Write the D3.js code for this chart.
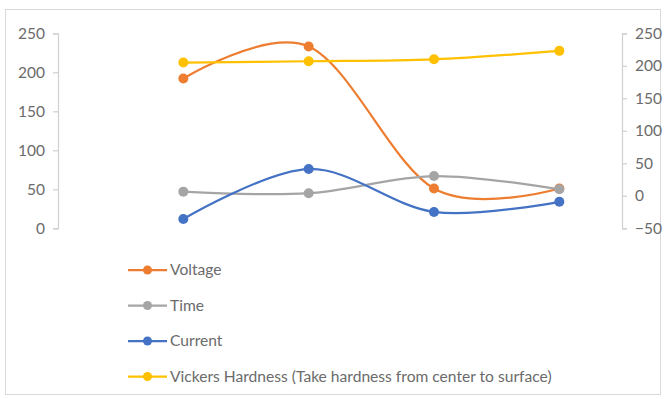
<!DOCTYPE html>
<html>
<head>
<meta charset="utf-8">
<script src="https://cdn.jsdelivr.net/npm/d3@7"></script>
<style>
  html, body { margin: 0; padding: 0; background: #fff; }
  svg { display: block; }
  text { font-family: Lato, "Liberation Sans", sans-serif; fill: #6b6b6b; }
</style>
</head>
<body>
<svg id="chart" width="667" height="399"></svg>
<script>
// Samples in order from centre to surface
const categories = ["1", "2", "3", "4"];

// Primary axis series
const voltage = [192, 233, 51, 51];
const time = [47, 45, 67, 50];
const current = [12, 76, 21, 34];

// Secondary axis series
const hardness = [205, 207, 210, 223];

const leftTicks = [0, 50, 100, 150, 200, 250];
const rightTicks = [-50, 0, 50, 100, 150, 200, 250];

const series = [
  { name: "Voltage", values: voltage, color: "#ED7D31", axis: "left" },
  { name: "Time", values: time, color: "#A5A5A5", axis: "left" },
  { name: "Current", values: current, color: "#4472C4", axis: "left" },
  { name: "Vickers Hardness (Take hardness from center to surface)", values: hardness, color: "#FFC000", axis: "right" }
];

const svg = d3.select("#chart");

// chart frame
svg.append("rect")
  .attr("x", 5.5).attr("y", 9.5)
  .attr("width", 655).attr("height", 385)
  .attr("fill", "#fff")
  .attr("stroke", "#d9d9d9");

const plot = { left: 58, right: 622, top: 33.3, bottom: 228.3 };

const x = d3.scaleLinear()
  .domain([-1, categories.length - 0.5])
  .range([plot.left, plot.right]);

const yLeft = d3.scaleLinear().domain([0, 250]).range([plot.bottom, plot.top]);
const yRight = d3.scaleLinear().domain([-50, 250]).range([plot.bottom, plot.top]);

// axes
const leftAxis = svg.append("g")
  .attr("transform", `translate(${plot.left},0)`)
  .call(d3.axisLeft(yLeft).tickValues(leftTicks).tickSize(5).tickPadding(8));
const rightAxis = svg.append("g")
  .attr("transform", `translate(${plot.right},0)`)
  .call(d3.axisRight(yRight).tickValues(rightTicks).tickSize(5).tickPadding(8));

[leftAxis, rightAxis].forEach(g => {
  g.select(".domain").attr("stroke", "#d0d0d0").attr("stroke-width", 1.2);
  g.selectAll(".tick line").attr("stroke", "#d0d0d0").attr("stroke-width", 1.2);
  g.selectAll(".tick text")
    .attr("fill", "#707070")
    .style("font-family", "Lato, 'Liberation Sans', sans-serif")
    .style("font-size", "15.5px");
});

// smoothed series lines
const line = scale => d3.line()
  .x((d, i) => x(i))
  .y(d => scale(d))
  .curve(d3.curveCardinal.tension(0));

series.forEach(s => {
  const scale = s.axis === "left" ? yLeft : yRight;
  const g = svg.append("g");
  g.append("path")
    .datum(s.values)
    .attr("d", line(scale))
    .attr("fill", "none")
    .attr("stroke", s.color)
    .attr("stroke-width", 2.25);
  g.selectAll("circle")
    .data(s.values)
    .join("circle")
    .attr("cx", (d, i) => x(i))
    .attr("cy", d => scale(d))
    .attr("r", 5)
    .attr("fill", s.color);
});

// legend
const legend = svg.append("g").attr("transform", "translate(128,270)");
series.forEach((s, i) => {
  const row = legend.append("g").attr("transform", `translate(0,${i * 35.5})`);
  row.append("line")
    .attr("x1", 0).attr("x2", 39)
    .attr("stroke", s.color).attr("stroke-width", 2.25);
  row.append("circle")
    .attr("cx", 19.5).attr("r", 4.5).attr("fill", s.color);
  row.append("text")
    .attr("x", 42).attr("dy", "0.35em")
    .attr("fill", "#707070")
    .style("font-size", "15.6px")
    .text(s.name);
});
</script>
</body>
</html>
